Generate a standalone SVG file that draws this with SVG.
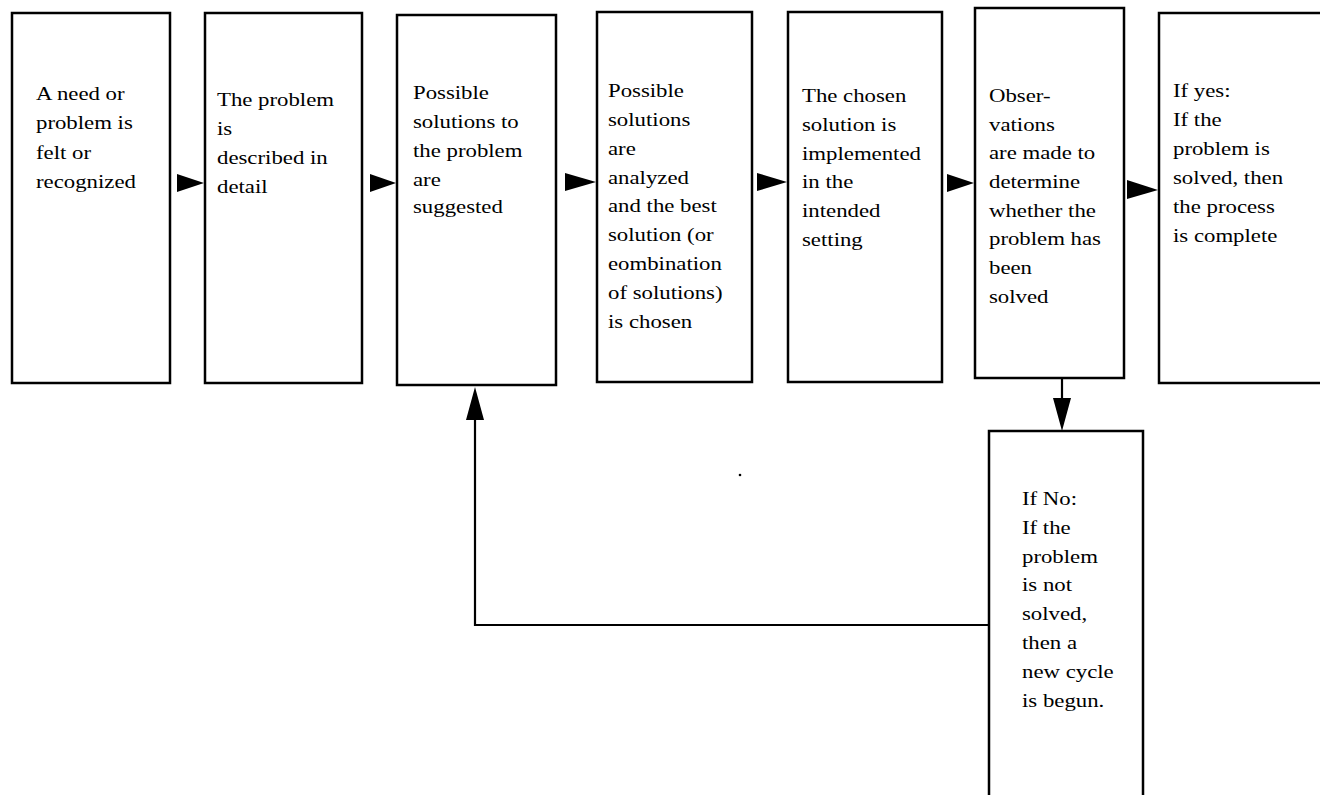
<svg xmlns="http://www.w3.org/2000/svg" width="1320" height="795" viewBox="0 0 1320 795">
<style>
.box{fill:#fff;stroke:#000;stroke-width:2.5}
.t{font-family:"Liberation Serif","Times New Roman",serif;font-size:19px;fill:#000}
.ln{fill:none;stroke:#000;stroke-width:2.2}
.ah{fill:#000}
</style>
<rect width="1320" height="795" fill="#fff"/>
<g id="n1"><rect class="box" x="12" y="13" width="158" height="370"/>
<text class="t" transform="translate(36,100) scale(1.2,1)"><tspan x="0" y="0">A need or</tspan><tspan x="0" y="29.3">problem is</tspan><tspan x="0" y="58.6">felt or</tspan><tspan x="0" y="87.9">recognized</tspan></text></g>
<g id="n2"><rect class="box" x="205" y="13" width="157" height="370"/>
<text class="t" transform="translate(217,106) scale(1.2,1)"><tspan x="0" y="0">The problem</tspan><tspan x="0" y="29">is</tspan><tspan x="0" y="58">described in</tspan><tspan x="0" y="87">detail</tspan></text></g>
<g id="n3"><rect class="box" x="397" y="15" width="159" height="370"/>
<text class="t" transform="translate(413,99) scale(1.2,1)"><tspan x="0" y="0">Possible</tspan><tspan x="0" y="29">solutions to</tspan><tspan x="0" y="58">the problem</tspan><tspan x="0" y="87">are</tspan><tspan x="0" y="114">suggested</tspan></text></g>
<g id="n4"><rect class="box" x="597" y="12" width="155" height="370"/>
<text class="t" transform="translate(608,97) scale(1.2,1)"><tspan x="0" y="0">Possible</tspan><tspan x="0" y="29">solutions</tspan><tspan x="0" y="58">are</tspan><tspan x="0" y="87">analyzed</tspan><tspan x="0" y="115.5">and the best</tspan><tspan x="0" y="144.5">solution (or</tspan><tspan x="0" y="173">eombination</tspan><tspan x="0" y="202">of solutions)</tspan><tspan x="0" y="231">is chosen</tspan></text></g>
<g id="n5"><rect class="box" x="788" y="12" width="154" height="370"/>
<text class="t" transform="translate(802,102) scale(1.2,1)"><tspan x="0" y="0">The chosen</tspan><tspan x="0" y="28.8">solution is</tspan><tspan x="0" y="57.6">implemented</tspan><tspan x="0" y="86.4">in the</tspan><tspan x="0" y="115.2">intended</tspan><tspan x="0" y="144">setting</tspan></text></g>
<g id="n6"><rect class="box" x="975" y="8" width="149" height="370"/>
<text class="t" transform="translate(989,102) scale(1.2,1)"><tspan x="0" y="0">Obser-</tspan><tspan x="0" y="28.7">vations</tspan><tspan x="0" y="57.4">are made to</tspan><tspan x="0" y="86.1">determine</tspan><tspan x="0" y="114.8">whether the</tspan><tspan x="0" y="143.5">problem has</tspan><tspan x="0" y="172.2">been</tspan><tspan x="0" y="200.9">solved</tspan></text></g>
<g id="n7"><rect class="box" x="1159" y="13" width="175" height="370"/>
<text class="t" transform="translate(1173,97) scale(1.2,1)"><tspan x="0" y="0">If yes:</tspan><tspan x="0" y="29">If the</tspan><tspan x="0" y="58">problem is</tspan><tspan x="0" y="87">solved, then</tspan><tspan x="0" y="116">the process</tspan><tspan x="0" y="145">is complete</tspan></text></g>
<g id="n8"><rect class="box" x="989" y="431" width="154" height="380"/>
<text class="t" transform="translate(1022,505) scale(1.2,1)"><tspan x="0" y="0">If No:</tspan><tspan x="0" y="28.8">If the</tspan><tspan x="0" y="57.6">problem</tspan><tspan x="0" y="86.4">is not</tspan><tspan x="0" y="115.2">solved,</tspan><tspan x="0" y="144">then a</tspan><tspan x="0" y="172.8">new cycle</tspan><tspan x="0" y="201.6">is begun.</tspan></text></g>
<g id="connectors">
<polygon class="ah" points="177,174 204,183 177,192"/>
<polygon class="ah" points="370,174 396,183 370,192"/>
<polygon class="ah" points="565,173 596,182 565,191"/>
<polygon class="ah" points="757,173 787,182 757,191"/>
<polygon class="ah" points="947,174 974,183 947,192"/>
<polygon class="ah" points="1127,180 1158,190 1127,199"/>
<line class="ln" x1="1062" y1="379" x2="1062" y2="400"/>
<polygon class="ah" points="1053,398 1062,431 1071,398"/>
<polyline class="ln" points="989,625 475,625 475,418"/>
<polygon class="ah" points="466,420 475,387 484,420"/>
</g>
<circle cx="740" cy="475" r="1.3" fill="#000"/>
</svg>
